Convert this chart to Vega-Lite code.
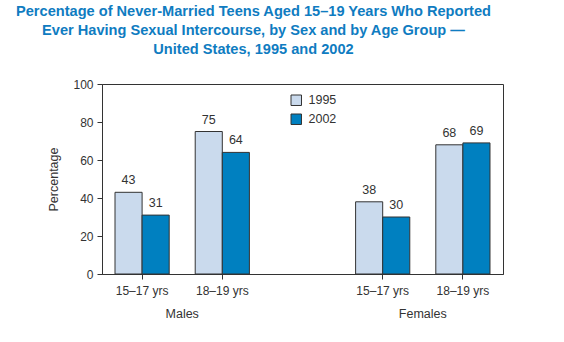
{
  "$schema": "https://vega.github.io/schema/vega-lite/v6.json",
  "width": 401,
  "height": 190,
  "autosize": "none",
  "padding": {"left": 102, "top": 84, "right": 61, "bottom": 68},
  "background": "white",
  "title": {
    "text": ["Percentage of Never-Married Teens Aged 15–19 Years Who Reported", "Ever Having Sexual Intercourse, by Sex and by Age Group —", "United States, 1995 and 2002"],
    "anchor": "middle",
    "frame": "group",
    "dx": -49,
    "offset": 21,
    "font": "Liberation Sans",
    "fontSize": 14.6,
    "fontWeight": "bold",
    "color": "#0f7cc1",
    "lineHeight": 19
  },
  "config": {
    "view": {"stroke": "#333", "strokeWidth": 1},
    "font": "Liberation Sans",
    "axis": {"labelFont": "Liberation Sans", "titleFont": "Liberation Sans", "labelColor": "#333", "titleColor": "#333", "domainColor": "#333", "tickColor": "#333", "labelFontSize": 12, "titleFontSize": 12.5, "titleFontWeight": "normal", "grid": false}
  },
  "layer": [
    {
      "data": {"values": [
        {"grp": "Males 15–17 yrs", "year": "1995", "pct": 43},
        {"grp": "Males 15–17 yrs", "year": "2002", "pct": 31},
        {"grp": "Males 18–19 yrs", "year": "1995", "pct": 75},
        {"grp": "Males 18–19 yrs", "year": "2002", "pct": 64},
        {"grp": "Females 15–17 yrs", "year": "1995", "pct": 38},
        {"grp": "Females 15–17 yrs", "year": "2002", "pct": 30},
        {"grp": "Females 18–19 yrs", "year": "1995", "pct": 68},
        {"grp": "Females 18–19 yrs", "year": "2002", "pct": 69}
      ]},
      "encoding": {
        "x": {
          "field": "grp", "type": "nominal",
          "scale": {"domain": ["Males 15–17 yrs", "Males 18–19 yrs", "gap", "Females 15–17 yrs", "Females 18–19 yrs"], "paddingInner": 0, "paddingOuter": 0},
          "axis": {"title": null, "values": ["Males 15–17 yrs", "Males 18–19 yrs", "Females 15–17 yrs", "Females 18–19 yrs"], "labelExpr": "replace(replace(datum.label, 'Females ', ''), 'Males ', '')", "labelAngle": 0, "tickSize": 5, "labelPadding": 6, "labelOverlap": false}
        },
        "xOffset": {"field": "year", "type": "nominal", "scale": {"paddingInner": 0, "paddingOuter": 0.48}},
        "y": {
          "field": "pct", "type": "quantitative",
          "scale": {"domain": [0, 100], "nice": false},
          "axis": {"title": "Percentage", "values": [0, 20, 40, 60, 80, 100], "tickCount": 6, "tickSize": 5, "labelPadding": 4, "titlePadding": 12, "labelOverlap": false, "labelBound": false, "labelFlush": false}
        }
      },
      "layer": [
        {
          "mark": {"type": "bar", "stroke": "#333", "strokeWidth": 1},
          "encoding": {
            "fill": {
              "field": "year", "type": "nominal",
              "scale": {"domain": ["1995", "2002"], "range": ["#cadaed", "#0080c0"]},
              "legend": {"title": null, "orient": "none", "legendX": 188, "legendY": 10, "symbolType": "square", "symbolSize": 110, "symbolStrokeColor": "#333", "symbolStrokeWidth": 1, "labelFontSize": 12.5, "labelColor": "#333", "labelFont": "Liberation Sans", "rowPadding": 4, "labelOffset": 6}
            }
          }
        },
        {
          "mark": {"type": "text", "baseline": "bottom", "dy": -5, "fontSize": 12.5, "color": "#333", "font": "Liberation Sans"},
          "encoding": {"text": {"field": "pct", "type": "quantitative"}}
        }
      ]
    },
    {
      "data": {"values": [
        {"grp": "Males 18–19 yrs", "sex": "Males"},
        {"grp": "Females 18–19 yrs", "sex": "Females"}
      ]},
      "mark": {"type": "text", "baseline": "middle", "fontSize": 12.5, "color": "#333", "font": "Liberation Sans"},
      "encoding": {
        "x": {"field": "grp", "type": "nominal", "bandPosition": 0},
        "y": {"datum": -21},
        "text": {"field": "sex"}
      }
    }
  ]
}
